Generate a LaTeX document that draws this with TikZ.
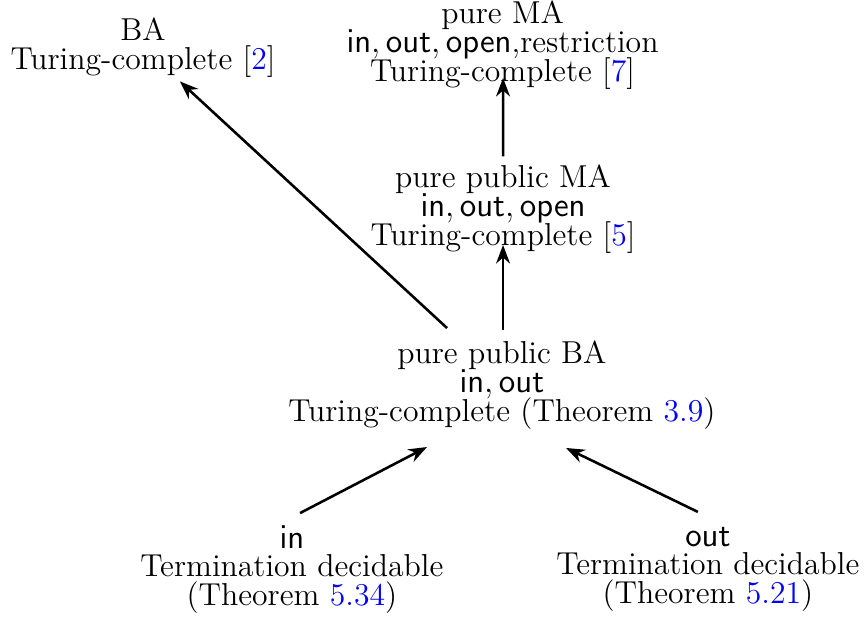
\documentclass[tikz,border=0pt]{standalone}
\usepackage{tikz}
\usepackage{amsmath}
\usetikzlibrary{arrows.meta}
\newcommand{\boxfont}{\fontsize{13.6pt}{12.3pt}\selectfont\lineskiplimit=-20pt\relax}

\begin{document}
\begin{tikzpicture}[x=1pt, y=1pt, every node/.style={align=center, inner sep=0pt, font=\boxfont}, every path/.style={line width=1.1pt}]
\useasboundingbox (0,0) rectangle (370.3,-264.4);
\node (BA) at (61.3,-20.3) {BA\\Turing-complete [\textcolor{blue}{2}]};
\node (MA) at (215.4,-19.4) {pure MA\\$\mathsf{in}, \mathsf{out}, \mathsf{open}$,restriction\\Turing-complete [\textcolor{blue}{7}]};
\node (PMA) at (215.6,-89.6) {pure public MA\\$\mathsf{in}, \mathsf{out}, \mathsf{open}$\\Turing-complete [\textcolor{blue}{5}]};
\node (PBA) at (215.1,-165.0) {pure public BA\\$\mathsf{in}, \mathsf{out}$\\Turing-complete (Theorem \textcolor{blue}{3.9})};
\node (IN) at (125.1,-244.0) {$\mathsf{in}$\\Termination decidable\\(Theorem \textcolor{blue}{5.34})};
\node (OUT) at (303.4,-244.0) {$\mathsf{out}$\\Termination decidable\\(Theorem \textcolor{blue}{5.21})};

\draw[-{Stealth}] ([shift={(-23.5,24.4)}]PBA.center) -- ([shift={(15.8,-14.6)}]BA.center);
\draw[-{Stealth}] ([shift={(0,22.6)}]PMA.center) -- ([shift={(0.2,-14.0)}]MA.center);
\draw[-{Stealth}] ([shift={(0.5,23.6)}]PBA.center) -- ([shift={(0,-15.4)}]PMA.center);
\draw[-{Stealth}] ([shift={(3.5,24.1)}]IN.center) -- ([shift={(-32.1,-26.6)}]PBA.center);
\draw[-{Stealth}] ([shift={(-4.3,24.6)}]OUT.center) -- ([shift={(27.5,-27.0)}]PBA.center);
\end{tikzpicture}
\end{document}
